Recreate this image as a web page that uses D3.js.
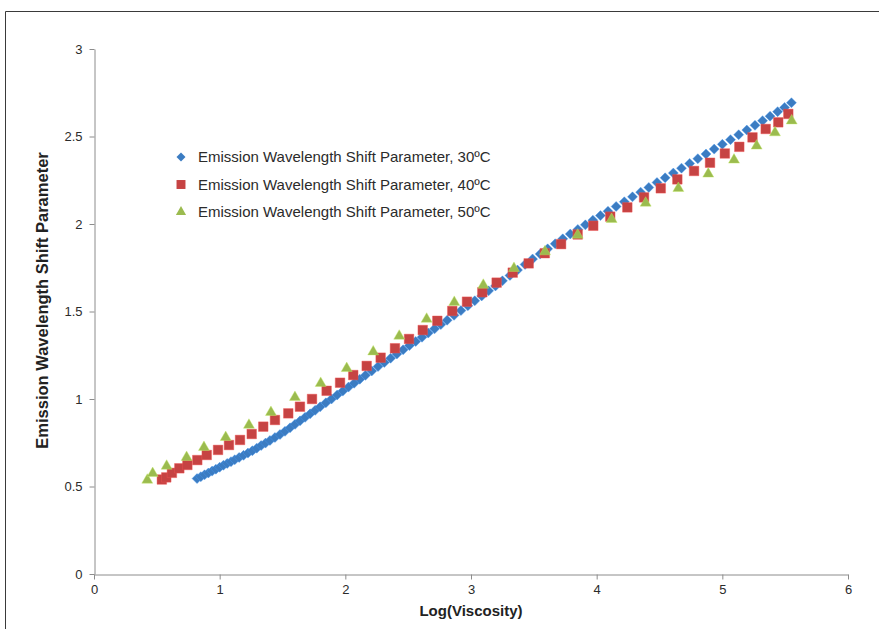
<!DOCTYPE html>
<html>
<head>
<meta charset="utf-8">
<script src="https://cdn.jsdelivr.net/npm/d3@7"></script>
<style>
  html, body { margin: 0; padding: 0; background: #fff; }
  svg { display: block; font-family: "Liberation Sans", Arial, sans-serif; }
</style>
</head>
<body>
<svg id="chart" width="879" height="629"></svg>
<script>
// ---- Data ----
const xTicks = [0, 1, 2, 3, 4, 5, 6];
const yTicks = [0, 0.5, 1, 1.5, 2, 2.5, 3];
const yTickLabels = ["0", "0.5", "1", "1.5", "2", "2.5", "3"];
const seriesNames = [
  "Emission Wavelength Shift Parameter, 30ºC",
  "Emission Wavelength Shift Parameter, 40ºC",
  "Emission Wavelength Shift Parameter, 50ºC"
];
const xTitle = "Log(Viscosity)";
const yTitle = "Emission Wavelength Shift Parameter";

const x30 = [0.82,0.85,0.88,0.91,0.94,0.97,1.00,1.03,1.06,1.09,1.12,1.155,1.19,1.225,1.26,1.295,1.33,1.365,1.40,1.44,1.48,1.52,1.56,1.60,1.64,1.68,1.72,1.76,1.80,1.845,1.89,1.935,1.98,2.025,2.07,2.115,2.16,2.21,2.26,2.31,2.36,2.41,2.46,2.51,2.56,2.61,2.66,2.71,2.76,2.81,2.865,2.92,2.975,3.03,3.085,3.14,3.195,3.25,3.31,3.37,3.43,3.49,3.55,3.61,3.67,3.73,3.79,3.85,3.91,3.97,4.03,4.09,4.155,4.22,4.285,4.35,4.415,4.48,4.545,4.61,4.675,4.74,4.805,4.87,4.935,5.0,5.065,5.13,5.195,5.26,5.32,5.38,5.44,5.495,5.55];
const y30 = [0.545,0.556,0.567,0.577,0.588,0.599,0.610,0.621,0.632,0.642,0.653,0.666,0.678,0.691,0.704,0.719,0.734,0.748,0.763,0.780,0.797,0.815,0.835,0.855,0.875,0.895,0.915,0.935,0.955,0.978,1.000,1.023,1.045,1.068,1.090,1.113,1.135,1.160,1.185,1.209,1.233,1.257,1.281,1.305,1.329,1.353,1.377,1.401,1.425,1.450,1.478,1.505,1.533,1.561,1.589,1.618,1.646,1.675,1.706,1.737,1.769,1.800,1.829,1.858,1.887,1.915,1.943,1.969,1.995,2.022,2.048,2.073,2.100,2.127,2.155,2.182,2.209,2.237,2.264,2.291,2.319,2.346,2.373,2.400,2.428,2.455,2.482,2.510,2.537,2.564,2.590,2.616,2.642,2.666,2.693];

const x40 = [0.54,0.575,0.62,0.679,0.743,0.822,0.897,0.987,1.074,1.162,1.255,1.347,1.44,1.546,1.639,1.735,1.851,1.958,2.063,2.17,2.281,2.395,2.507,2.616,2.732,2.851,2.968,3.09,3.204,3.332,3.459,3.587,3.717,3.849,3.973,4.108,4.244,4.377,4.51,4.642,4.775,4.902,5.02,5.135,5.24,5.345,5.445,5.525];
const y40 = [0.540,0.552,0.578,0.604,0.623,0.651,0.680,0.709,0.737,0.766,0.800,0.842,0.880,0.918,0.956,1.000,1.047,1.093,1.137,1.189,1.236,1.290,1.343,1.394,1.447,1.503,1.556,1.610,1.665,1.722,1.775,1.833,1.885,1.940,1.990,2.042,2.095,2.152,2.204,2.255,2.303,2.350,2.403,2.441,2.495,2.543,2.581,2.629];

const x50 = [0.424,0.467,0.578,0.737,0.875,1.048,1.233,1.408,1.599,1.804,2.011,2.222,2.429,2.647,2.867,3.098,3.342,3.589,3.849,4.119,4.39,4.65,4.888,5.093,5.273,5.419,5.552];
const y50 = [0.537,0.575,0.617,0.667,0.724,0.781,0.851,0.924,1.010,1.090,1.175,1.270,1.360,1.457,1.553,1.651,1.747,1.842,1.937,2.027,2.120,2.204,2.286,2.366,2.446,2.522,2.590];

const colors = ["#3b7cc2", "#c64343", "#9bbb4f"];

// ---- Layout ----
const svg = d3.select("#chart");
const plot = { left: 94, right: 848, top: 49, bottom: 574 };

const x = d3.scaleLinear().domain([0, 6]).range([plot.left, plot.right]);
const y = d3.scaleLinear().domain([0, 3]).range([plot.bottom, plot.top]);

// outer chart border (left and top visible)
svg.append("path")
  .attr("d", "M5.5,629 L5.5,11.5 L879,11.5")
  .attr("fill", "none").attr("stroke", "#3a3a3a").attr("stroke-width", 1);

// axes
const axisColor = "#8c8c8c";
const xAxis = svg.append("g")
  .attr("transform", `translate(0,${plot.bottom + 0.5})`)
  .call(d3.axisBottom(x).tickValues(xTicks).tickSize(5).tickSizeOuter(0).tickFormat(d3.format("d")));
const yAxis = svg.append("g")
  .attr("transform", `translate(${plot.left + 0.5},0)`)
  .call(d3.axisLeft(y).tickValues(yTicks).tickSize(5).tickSizeOuter(0)
    .tickFormat((d, i) => yTickLabels[i]));

[xAxis, yAxis].forEach(g => {
  g.select(".domain").attr("stroke", axisColor);
  g.selectAll(".tick line").attr("stroke", axisColor);
  g.selectAll(".tick text")
    .attr("fill", "#2b2b2b")
    .style("font-size", "13px")
    .style("font-family", "'Liberation Sans', Arial, sans-serif");
});
xAxis.selectAll(".tick text").attr("dy", "0.95em").attr("y", 7);
yAxis.selectAll(".tick text").attr("x", -12);

// titles
svg.append("text")
  .attr("x", (plot.left + plot.right) / 2).attr("y", 616)
  .attr("text-anchor", "middle")
  .style("font-size", "15px").style("font-weight", "bold").attr("fill", "#222")
  .text(xTitle);
svg.append("text")
  .attr("transform", `translate(48,${(plot.top + plot.bottom) / 2 - 11}) rotate(-90)`)
  .attr("text-anchor", "middle")
  .style("font-size", "16.5px").style("font-weight", "bold").attr("fill", "#222")
  .text(yTitle);

// symbols
const diamond = d3.symbol().type(d3.symbolSquare).size(50);
const square = d3.symbol().type(d3.symbolSquare).size(92);
const triangle = d3.symbol().type(d3.symbolTriangle).size(52);

function drawSeries(xs, ys, sym, color, rot) {
  svg.append("g").selectAll("path")
    .data(xs.map((v, i) => [v, ys[i]]))
    .join("path")
    .attr("d", sym)
    .attr("transform", d => `translate(${x(d[0])},${y(d[1])})${rot ? " rotate(45)" : ""}`)
    .attr("fill", color)
    .attr("stroke", d3.color(color).brighter(0.6))
    .attr("stroke-opacity", 0.5)
    .attr("stroke-width", 0.8);
}
drawSeries(x30, y30, diamond, colors[0], true);
drawSeries(x40, y40, square, colors[1], false);
drawSeries(x50, y50, triangle, colors[2], false);

// legend
const legend = svg.append("g").attr("transform", "translate(181,157)");
const legSyms = [
  { s: d3.symbol().type(d3.symbolSquare).size(40), rot: true },
  { s: d3.symbol().type(d3.symbolSquare).size(80), rot: false },
  { s: d3.symbol().type(d3.symbolTriangle).size(45), rot: false }
];
seriesNames.forEach((name, i) => {
  const row = legend.append("g").attr("transform", `translate(0,${i * 27.5})`);
  row.append("path").attr("d", legSyms[i].s)
    .attr("transform", legSyms[i].rot ? "rotate(45)" : null)
    .attr("fill", colors[i]);
  row.append("text").attr("x", 17).attr("y", 0).attr("dy", "0.36em")
    .style("font-size", "15px").attr("fill", "#2b2b2b").text(name);
});
</script>
</body>
</html>
